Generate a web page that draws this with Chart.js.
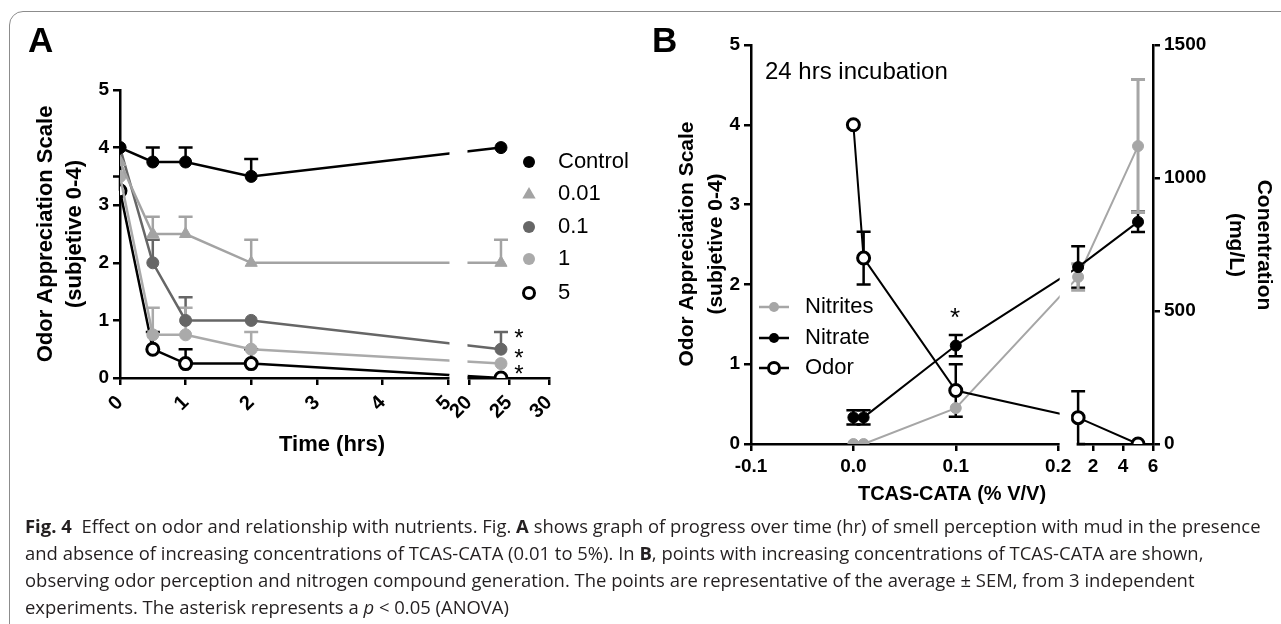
<!DOCTYPE html>
<html>
<head>
<meta charset="utf-8">
<script src="https://cdn.jsdelivr.net/npm/chart.js@4.4.1/dist/chart.umd.min.js"></script>
<style>
  body { margin:0; background:#fff; width:1281px; height:624px; overflow:hidden; position:relative; }
  #frame { position:absolute; left:9px; top:11px; width:1320px; height:700px; border:1.5px solid #8c8c8c; border-radius:14px; }
  #chartA { position:absolute; left:0; top:0; }
  #chartB { position:absolute; left:640px; top:0; }
  #caption { position:absolute; left:25px; top:513px; font-family:"Open Sans", sans-serif; font-size:18px;
             line-height:27px; color:#231f20; white-space:nowrap; transform-origin:0 0; }
  #caption div { height:27px; }
</style>
</head>
<body>
<div id="frame"></div>
<canvas id="chartA" width="640" height="470"></canvas>
<canvas id="chartB" width="641" height="520"></canvas>
<div id="caption">
  <div id="cap1"><b>Fig. 4</b>&nbsp; Effect on odor and relationship with nutrients. Fig. <b>A</b> shows graph of progress over time (hr) of smell perception with mud in the presence</div>
  <div>and absence of increasing concentrations of TCAS-CATA (0.01 to 5%). In <b>B</b>, points with increasing concentrations of TCAS-CATA are shown,</div>
  <div>observing odor perception and nitrogen compound generation. The points are representative of the average ± SEM, from 3 independent</div>
  <div>experiments. The asterisk represents a <i>p</i> &lt; 0.05 (ANOVA)</div>
</div>
<script>
// ---- panel A: odor over time ----
const timesA = [0, 0.5, 1, 2, 24];
const controlA = [4, 3.75, 3.75, 3.5, 4];
const controlErrA = [0, 0.25, 0.25, 0.3, 0];
const c001A = [3.75, 2.5, 2.5, 2, 2];
const c001ErrA = [0, 0.3, 0.3, 0.4, 0.4];
const c01A = [4, 2, 1, 1, 0.5];
const c01ErrA = [0, 0.4, 0.4, 0, 0.3];
const c1A = [3.5, 0.75, 0.75, 0.5, 0.25];
const c1ErrA = [0, 0.47, 0.47, 0.3, 0];
const c5A = [3.25, 0.5, 0.25, 0.25, 0];
const c5ErrA = [0.25, 0.3, 0.25, 0.25, 0];
const tickTimesA = [0, 1, 2, 3, 4, 5, 20, 25, 30];

// ---- panel B: 24 h incubation ----
const concB = [0, 0.01, 0.1, 1, 5];
const odorB = [4, 2.33, 0.67, 0.33, 0];
const odorErrB = [0, 0.33, 0.33, 0.33, 0];
const nitrateB = [100, 100, 370, 665, 835];
const nitrateErrB = [27, 27, 40, 78, 38];
const nitritesB = [0, 0, 135, 628, 1120];
const nitritesErrB = [0, 0, 0, 50, 250];
const tickConcB = [-0.1, 0, 0.1, 0.2, 2, 4, 6];
const tickLabelsB = ['-0.1', '0.0', '0.1', '0.2', '2', '4', '6'];

const FAM = 'Arial, "Liberation Sans", sans-serif';

// broken axes: second segment squeezed after a small gap
function posA(t){ return t <= 5 ? t : 5.32 + (t - 20) * 0.122; }
function posB(c){ return c <= 0.2 ? c : 0.2195 + (c - 1) * 0.01463; }

function pts(xs, ys, f){ return xs.map((x, i) => ({ x: f(x), y: ys[i] })); }

const errorBars = {
  id: 'errorBars',
  beforeDatasetsDraw(chart){
    const ctx = chart.ctx;
    chart.data.datasets.forEach((ds, i) => {
      if (!ds.errUp) return;
      const meta = chart.getDatasetMeta(i);
      const ys = chart.scales[meta.yAxisID];
      const cap = ds.errCap || 7;
      ctx.save();
      ctx.strokeStyle = ds.errColor || ds.borderColor;
      ctx.lineWidth = ds.errWidth || 2.5;
      meta.data.forEach((pt, j) => {
        const up = ds.errUp[j], dn = ds.errDown ? ds.errDown[j] : 0;
        if (!up && !dn) return;
        const v = ds.data[j].y;
        const y1 = ys.getPixelForValue(v + up), y2 = ys.getPixelForValue(v - dn);
        ctx.beginPath();
        ctx.moveTo(pt.x, y1); ctx.lineTo(pt.x, y2);
        if (up){ ctx.moveTo(pt.x - cap, y1); ctx.lineTo(pt.x + cap, y1); }
        if (dn){ ctx.moveTo(pt.x - cap, y2); ctx.lineTo(pt.x + cap, y2); }
        ctx.stroke();
      });
      ctx.restore();
    });
  }
};

const axisBreak = {
  id: 'axisBreak',
  afterDatasetsDraw(chart, args, opts){
    const xs = chart.scales.x, a = chart.chartArea, ctx = chart.ctx;
    const x1 = xs.getPixelForValue(opts.from) + 1.5;
    const x2 = xs.getPixelForValue(opts.to) - opts.inset;
    const x3 = xs.getPixelForValue(opts.to) - 1.5;
    ctx.save();
    ctx.fillStyle = '#fff';
    ctx.fillRect(x1, a.top - 5, x2 - x1, a.bottom - a.top + 3);
    ctx.fillRect(x1, a.bottom - 3, x3 - x1, 5);
    ctx.restore();
  }
};

function marker(ctx, style, x, y, r, fill, stroke, bw){
  ctx.save();
  ctx.fillStyle = fill; ctx.strokeStyle = stroke; ctx.lineWidth = bw;
  ctx.beginPath();
  if (style === 'triangle'){
    ctx.moveTo(x, y - r); ctx.lineTo(x + r * 0.95, y + r * 0.65); ctx.lineTo(x - r * 0.95, y + r * 0.65); ctx.closePath();
  } else {
    ctx.arc(x, y, r, 0, Math.PI * 2);
  }
  ctx.fill();
  if (bw) ctx.stroke();
  ctx.restore();
}

const annot = {
  id: 'annot',
  afterDraw(chart, args, opts){
    const ctx = chart.ctx;
    (opts.keys || []).forEach(k => {
      if (k.line){
        ctx.save(); ctx.strokeStyle = k.stroke; ctx.lineWidth = 2.5;
        ctx.beginPath(); ctx.moveTo(k.x - 15, k.y); ctx.lineTo(k.x + 15, k.y); ctx.stroke(); ctx.restore();
      }
      marker(ctx, k.style, k.x, k.y, k.r, k.fill, k.stroke, k.bw);
    });
    (opts.texts || []).forEach(t => {
      ctx.save();
      ctx.font = t.font;
      ctx.fillStyle = '#000';
      ctx.textAlign = t.align || 'center';
      ctx.textBaseline = t.base || 'middle';
      ctx.translate(t.x, t.y);
      if (t.rot) ctx.rotate(t.rot * Math.PI / 180);
      ctx.fillText(t.text, 0, 0);
      ctx.restore();
    });
  }
};

const tickFont = { family: FAM, size: 19, weight: 'bold' };
const axisGrid = { drawOnChartArea: false, drawTicks: true, tickLength: 7, color: '#000', lineWidth: 2.5 };
const axisBorder = { color: '#000', width: 2.5 };

function series(label, ys, err, color, style, extra){
  return Object.assign({
    label, data: pts(timesA, ys, posA), errUp: err,
    borderColor: color, backgroundColor: color, pointBackgroundColor: color, pointBorderColor: color,
    borderWidth: 2.5, pointStyle: style, pointRadius: 6, pointBorderWidth: 1, tension: 0
  }, extra || {});
}

new Chart(document.getElementById('chartA'), {
  type: 'line',
  data: { datasets: [
    series('Control', controlA, controlErrA, '#000000', 'circle'),
    series('0.01', c001A, c001ErrA, '#a3a3a3', 'triangle', { pointRadius: 7 }),
    series('0.1', c01A, c01ErrA, '#666666', 'circle'),
    series('1', c1A, c1ErrA, '#aaaaaa', 'circle'),
    series('5', c5A, c5ErrA, '#000000', 'circle', { pointBackgroundColor: '#fff', pointBorderWidth: 3, pointRadius: 6 })
  ]},
  options: {
    responsive: false, animation: false, devicePixelRatio: 1,
    layout: { padding: { top: 90, right: 91, left: 0, bottom: 0 } },
    plugins: {
      legend: { display: false }, tooltip: { enabled: false },
      axisBreak: { from: 5, to: posA(20), inset: 1.5 },
      annot: {
        keys: [
          { style: 'circle', x: 529, y: 162, r: 6, fill: '#000', stroke: '#000', bw: 0 },
          { style: 'triangle', x: 529, y: 194, r: 7, fill: '#a3a3a3', stroke: '#a3a3a3', bw: 0 },
          { style: 'circle', x: 529, y: 227, r: 6, fill: '#666666', stroke: '#666666', bw: 0 },
          { style: 'circle', x: 529, y: 259, r: 6, fill: '#aaaaaa', stroke: '#aaaaaa', bw: 0 },
          { style: 'circle', x: 529, y: 293, r: 5.5, fill: '#fff', stroke: '#000', bw: 3 }
        ],
        texts: [
          { text: 'A', x: 28, y: 42, font: 'bold 35px ' + FAM, align: 'left' },
          { text: 'Odor Appreciation Scale', x: 46, y: 234, rot: -90, font: 'bold 22px ' + FAM },
          { text: '(subjetive 0-4)', x: 75, y: 234, rot: -90, font: 'bold 22px ' + FAM },
          { text: 'Time (hrs)', x: 332, y: 445, font: 'bold 22px ' + FAM },
          { text: 'Control', x: 558, y: 162, font: '22px ' + FAM, align: 'left' },
          { text: '0.01', x: 558, y: 194, font: '22px ' + FAM, align: 'left' },
          { text: '0.1', x: 558, y: 227, font: '22px ' + FAM, align: 'left' },
          { text: '1', x: 558, y: 259, font: '22px ' + FAM, align: 'left' },
          { text: '5', x: 558, y: 293, font: '22px ' + FAM, align: 'left' },
          { text: '*', x: 519, y: 346, font: '24px ' + FAM, base: 'alphabetic' },
          { text: '*', x: 519, y: 366, font: '24px ' + FAM, base: 'alphabetic' },
          { text: '*', x: 519, y: 382, font: '24px ' + FAM, base: 'alphabetic' }
        ]
      }
    },
    scales: {
      x: {
        type: 'linear', min: 0, max: posA(30),
        afterBuildTicks: s => { s.ticks = tickTimesA.map(t => ({ value: posA(t) })); },
        afterFit: s => { s.height = 92; },
        grid: axisGrid, border: axisBorder,
        ticks: { color: '#000', font: { family: FAM, size: 20, weight: 'bold' }, minRotation: 45, maxRotation: 45,
                 padding: 6, autoSkip: false, callback: (v, i) => String(tickTimesA[i]) }
      },
      y: {
        min: 0, max: 5,
        afterFit: s => { s.width = 120; },
        grid: axisGrid, border: axisBorder,
        ticks: { color: '#000', font: tickFont, stepSize: 1, padding: 4 }
      }
    }
  },
  plugins: [errorBars, axisBreak, annot]
});

function seriesB(label, ys, axis, color, extra){
  return Object.assign({
    label, data: pts(concB, ys, posB), yAxisID: axis,
    borderColor: color, backgroundColor: color, pointBackgroundColor: color, pointBorderColor: color,
    borderWidth: 2, pointRadius: 5.5, pointBorderWidth: 1, tension: 0, errCap: 7, errWidth: 2.5
  }, extra || {});
}

new Chart(document.getElementById('chartB'), {
  type: 'line',
  data: { datasets: [
    seriesB('Odor', odorB, 'y', '#000000', { errUp: odorErrB, errDown: odorErrB, pointBackgroundColor: '#fff', pointBorderWidth: 3, pointRadius: 6, order: 0 }),
    seriesB('Nitrate', nitrateB, 'y1', '#000000', { errUp: nitrateErrB, errDown: nitrateErrB, pointRadius: 5.5, order: 1 }),
    seriesB('Nitrites', nitritesB, 'y1', '#a6a6a6', { errUp: nitritesErrB, errDown: nitritesErrB, errWidth: 3, order: 2 })
  ]},
  options: {
    responsive: false, animation: false, devicePixelRatio: 1,
    layout: { padding: { top: 45, right: 0, left: 0, bottom: 0 } },
    plugins: {
      legend: { display: false }, tooltip: { enabled: false },
      axisBreak: { from: 0.2, to: posB(1), inset: 7 },
      annot: {
        keys: [
          { line: true, style: 'circle', x: 134, y: 307, r: 5, fill: '#a6a6a6', stroke: '#a6a6a6', bw: 0 },
          { line: true, style: 'circle', x: 134, y: 338, r: 5, fill: '#000', stroke: '#000', bw: 0 },
          { line: true, style: 'circle', x: 134, y: 368, r: 5.5, fill: '#fff', stroke: '#000', bw: 3 }
        ],
        texts: [
          { text: 'B', x: 12, y: 42, font: 'bold 35px ' + FAM, align: 'left' },
          { text: '24 hrs incubation', x: 125, y: 72, font: '24px ' + FAM, align: 'left' },
          { text: 'Odor Appreciation Scale', x: 47, y: 244, rot: -90, font: 'bold 21px ' + FAM },
          { text: '(subjetive 0-4)', x: 76, y: 244, rot: -90, font: 'bold 21px ' + FAM },
          { text: 'Conentration', x: 624, y: 245, rot: 90, font: 'bold 21px ' + FAM },
          { text: '(mg/L)', x: 596, y: 245, rot: 90, font: 'bold 21px ' + FAM },
          { text: 'TCAS-CATA (% V/V)', x: 312, y: 494, font: 'bold 20px ' + FAM },
          { text: 'Nitrites', x: 165, y: 307, font: '22px ' + FAM, align: 'left' },
          { text: 'Nitrate', x: 165, y: 338, font: '22px ' + FAM, align: 'left' },
          { text: 'Odor', x: 165, y: 368, font: '22px ' + FAM, align: 'left' },
          { text: '*', x: 315, y: 326, font: '26px ' + FAM, base: 'alphabetic' }
        ]
      }
    },
    scales: {
      x: {
        type: 'linear', min: -0.1, max: posB(6),
        afterBuildTicks: s => { s.ticks = tickConcB.map(c => ({ value: posB(c) })); },
        afterFit: s => { s.height = 76; },
        grid: axisGrid, border: axisBorder,
        ticks: { color: '#000', font: tickFont, minRotation: 0, maxRotation: 0, padding: 4, autoSkip: false,
                 callback: (v, i) => tickLabelsB[i] }
      },
      y: {
        position: 'left', min: 0, max: 5,
        afterFit: s => { s.width = 111; },
        grid: axisGrid, border: axisBorder,
        ticks: { color: '#000', font: tickFont, stepSize: 1, padding: 4 }
      },
      y1: {
        position: 'right', min: 0, max: 1500,
        afterFit: s => { s.width = 128; },
        grid: axisGrid, border: axisBorder,
        ticks: { color: '#000', font: tickFont, stepSize: 500, padding: 4, callback: v => String(v) }
      }
    }
  },
  plugins: [errorBars, axisBreak, annot]
});

// fit caption to the width of the printed lines
const cap = document.getElementById('caption');
const w1 = document.getElementById('cap1').scrollWidth;
cap.style.transform = 'scaleX(' + (1236 / w1) + ')';
</script>
</body>
</html>
